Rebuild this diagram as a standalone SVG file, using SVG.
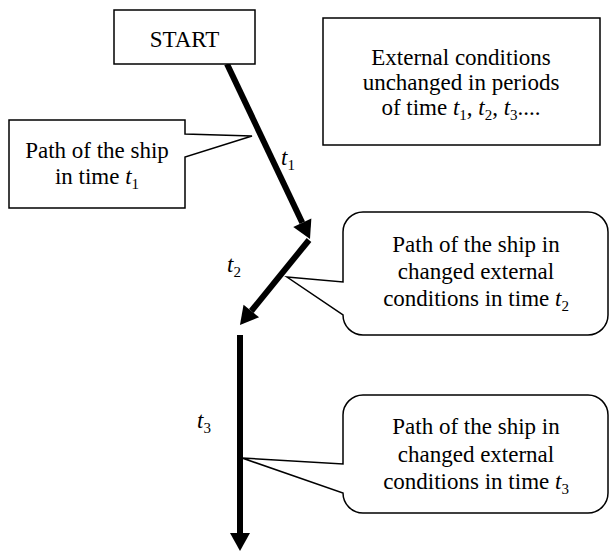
<svg xmlns="http://www.w3.org/2000/svg" width="614" height="551" viewBox="0 0 614 551">
<style>
.box{fill:#fff;stroke:#000;stroke-width:1.5}
.txt{font-family:"Liberation Serif","Times New Roman",serif;font-size:23px;fill:#000;text-anchor:middle}
.lbl{font-family:"Liberation Serif","Times New Roman",serif;font-size:23px;fill:#000}
.it{font-style:italic}
.sub{font-size:15px;font-style:normal}
.arr{stroke:#000;stroke-width:6;fill:none}
</style>
<defs>
<marker id="ah" markerUnits="userSpaceOnUse" markerWidth="18" markerHeight="20" refX="0" refY="10" orient="auto" overflow="visible">
<path d="M0,0 L18,10 L0,20 Z" fill="#000"/>
</marker>
</defs>
<rect width="614" height="551" fill="#fff"/>
<g id="connectors">
<line class="arr" x1="227" y1="64" x2="302.3" y2="222.7" marker-end="url(#ah)"/>
<line class="arr" x1="309" y1="240" x2="251.3" y2="311" marker-end="url(#ah)"/>
<line class="arr" x1="240" y1="335" x2="240" y2="533" marker-end="url(#ah)"/>
<text class="lbl it" x="281" y="165">t<tspan class="sub" dy="5">1</tspan></text>
<text class="lbl it" x="227" y="272">t<tspan class="sub" dy="5">2</tspan></text>
<text class="lbl it" x="197" y="428">t<tspan class="sub" dy="5">3</tspan></text>
</g>
<g id="start">
<rect class="box" x="114" y="10" width="141" height="54"/>
<text class="txt" x="184.5" y="47">START</text>
</g>
<g id="external">
<rect class="box" x="323" y="18" width="277" height="127"/>
<text class="txt" x="461" y="65">External conditions</text>
<text class="txt" x="461" y="90">unchanged in periods</text>
<text class="txt" x="461" y="115">of time <tspan class="it">t</tspan><tspan class="sub" dy="5">1</tspan><tspan dy="-5">, </tspan><tspan class="it">t</tspan><tspan class="sub" dy="5">2</tspan><tspan dy="-5">, </tspan><tspan class="it">t</tspan><tspan class="sub" dy="5">3</tspan><tspan dy="-5">....</tspan></text>
</g>
<g id="callout1">
<path class="box" d="M9,120 H185 V134 L252,136 L185,157 V208 H9 Z"/>
<text class="txt" x="97" y="158">Path of the ship</text>
<text class="txt" x="97" y="184">in time <tspan class="it">t</tspan><tspan class="sub" dy="5">1</tspan></text>
</g>
<g id="callout2">
<path class="box" d="M363,212 H588 A20,20 0 0 1 608,232 V315 A20,20 0 0 1 588,335 H363 A20,20 0 0 1 343,315 L287,277 L343,282 V232 A20,20 0 0 1 363,212 Z"/>
<text class="txt" x="476" y="252">Path of the ship in</text>
<text class="txt" x="476" y="279">changed external</text>
<text class="txt" x="476" y="306">conditions in time <tspan class="it">t</tspan><tspan class="sub" dy="5">2</tspan></text>
</g>
<g id="callout3">
<path class="box" d="M363,395 H588 A20,20 0 0 1 608,415 V493 A20,20 0 0 1 588,513 H363 A20,20 0 0 1 343,493 L242,458 L343,464 V415 A20,20 0 0 1 363,395 Z"/>
<text class="txt" x="476" y="434">Path of the ship in</text>
<text class="txt" x="476" y="462">changed external</text>
<text class="txt" x="476" y="489">conditions in time <tspan class="it">t</tspan><tspan class="sub" dy="5">3</tspan></text>
</g>
</svg>
